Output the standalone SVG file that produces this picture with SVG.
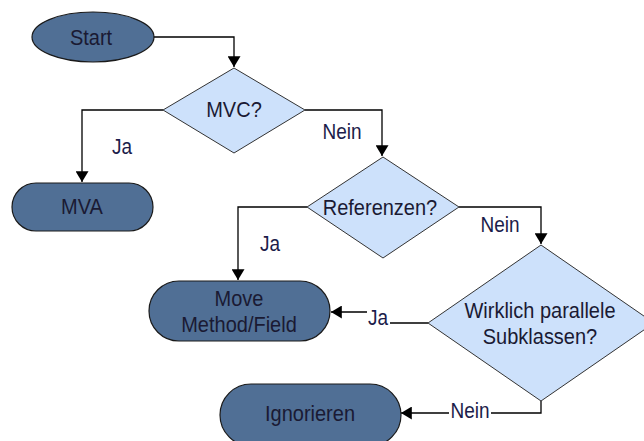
<svg xmlns="http://www.w3.org/2000/svg" width="644" height="441" viewBox="0 0 644 441">
  <defs>
    <style>
      .term { fill: #506f95; stroke: #1a1a1a; stroke-width: 1.2; }
      .dec { fill: #cde1fb; stroke: #333; stroke-width: 1; }
      .txt, .lbl { font-family: "Liberation Sans", Arial, sans-serif; text-anchor: middle; dominant-baseline: central;
                   transform-box: fill-box; transform-origin: center; transform: scaleY(1.13); }
      .txt { font-size: 20px; fill: #1a1a33; }
      .lbl { font-size: 19px; fill: #1c1c4a; }
      .edge { fill: none; stroke: #000; stroke-width: 1.3; }
    </style>
    <marker id="arrow" viewBox="0 0 10 12" refX="10" refY="6" markerWidth="11" markerHeight="13" markerUnits="userSpaceOnUse" orient="auto">
      <path d="M0,0 L10,6 L0,12 z" fill="#000"/>
    </marker>
  </defs>

  <rect width="644" height="441" fill="#fff"/>

  <!-- connectors -->
  <g id="connectors">
    <path class="edge" d="M153,37 H234 V67" marker-end="url(#arrow)"/>
    <path class="edge" d="M163,110 H82 V182" marker-end="url(#arrow)"/>
    <path class="edge" d="M305,110 H382 V156" marker-end="url(#arrow)"/>
    <path class="edge" d="M307,207 H238 V280" marker-end="url(#arrow)"/>
    <path class="edge" d="M459,207 H541 V244" marker-end="url(#arrow)"/>
    <path class="edge" d="M428,323 H378 V312 H331" marker-end="url(#arrow)"/>
    <path class="edge" d="M541,401 V413 H401" marker-end="url(#arrow)"/>
  </g>

  <g id="start">
    <ellipse class="term" cx="93" cy="37" rx="61" ry="25"/>
    <text class="txt" x="91" y="38">Start</text>
  </g>

  <g id="mvc">
    <polygon class="dec" points="234,68 305,110 234,153 163,110"/>
    <text class="txt" x="234" y="110">MVC?</text>
  </g>

  <g id="mva">
    <rect class="term" x="12" y="183" width="141" height="48" rx="24"/>
    <text class="txt" x="82" y="207">MVA</text>
  </g>

  <g id="referenzen">
    <polygon class="dec" points="383,157 459,207 383,258 307,207"/>
    <text class="txt" x="380" y="208">Referenzen?</text>
  </g>

  <g id="move">
    <rect class="term" x="149" y="281" width="181" height="60" rx="30"/>
    <text class="txt" x="239" y="299">Move</text>
    <text class="txt" x="239" y="325">Method/Field</text>
  </g>

  <g id="parallel">
    <polygon class="dec" points="541,245 654,323 541,401 428,323"/>
    <text class="txt" x="540" y="311">Wirklich parallele</text>
    <text class="txt" x="540" y="337">Subklassen?</text>
  </g>

  <g id="ignorieren">
    <rect class="term" x="220" y="384" width="181" height="62" rx="31"/>
    <text class="txt" x="310" y="414">Ignorieren</text>
  </g>

  <!-- edge labels -->
  <g id="labels">
    <text class="lbl" x="122" y="147">Ja</text>
    <text class="lbl" x="342" y="132">Nein</text>
    <text class="lbl" x="270" y="244">Ja</text>
    <text class="lbl" x="500" y="225">Nein</text>
    <rect x="367" y="307" width="23" height="22" fill="#fff"/>
    <text class="lbl" x="378" y="318">Ja</text>
    <rect x="449" y="401" width="42" height="23" fill="#fff"/>
    <text class="lbl" x="470" y="411">Nein</text>
  </g>
</svg>
